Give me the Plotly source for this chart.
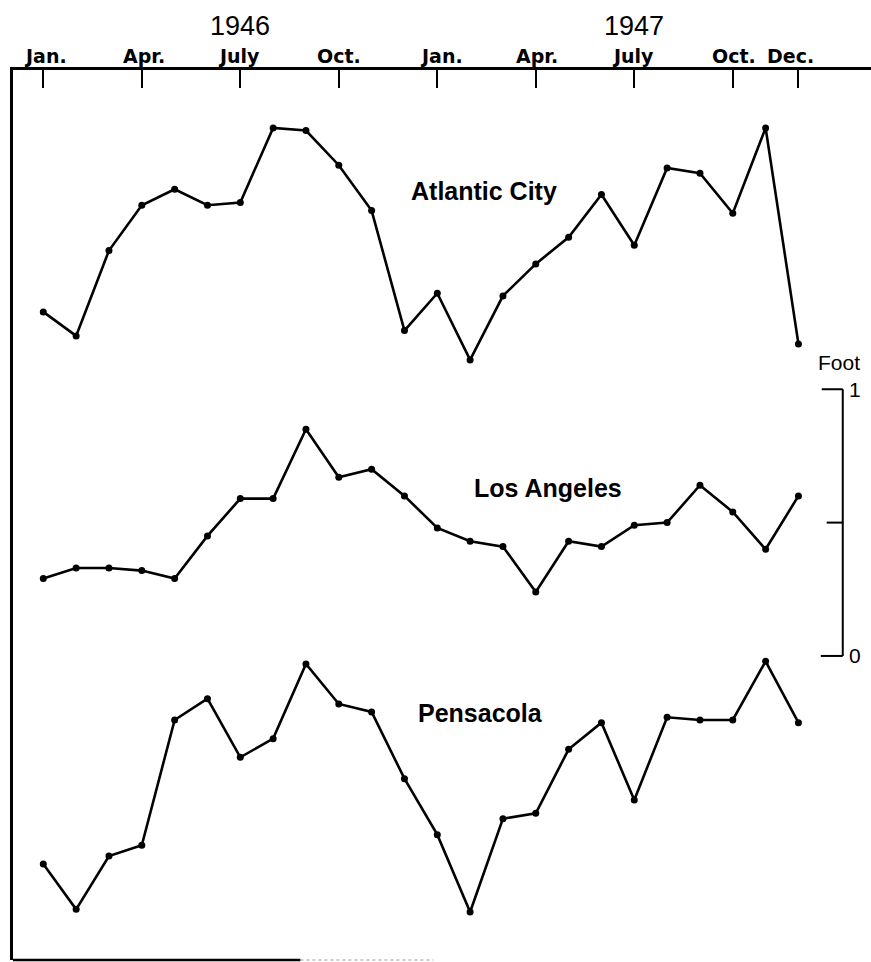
import plotly.graph_objects as go

# ---- data (monthly mean sea level, feet; arbitrary datum per station) ----
months = list(range(24))  # Jan 1946 .. Dec 1947
atlantic_city = [0.43, 0.34, 0.66, 0.83, 0.89, 0.83, 0.84, 1.12, 1.11, 0.98, 0.81, 0.36,
                 0.50, 0.25, 0.49, 0.61, 0.71, 0.87, 0.68, 0.97, 0.95, 0.80, 1.12, 0.31]
los_angeles = [0.43, 0.47, 0.47, 0.46, 0.43, 0.59, 0.73, 0.73, 0.99, 0.81, 0.84, 0.74,
               0.62, 0.57, 0.55, 0.38, 0.57, 0.55, 0.63, 0.64, 0.78, 0.68, 0.54, 0.74]
pensacola = [0.36, 0.19, 0.39, 0.43, 0.90, 0.98, 0.76, 0.83, 1.11, 0.96, 0.93, 0.68,
             0.47, 0.18, 0.53, 0.55, 0.79, 0.89, 0.60, 0.91, 0.90, 0.90, 1.12, 0.89]
station_names = ["Atlantic City", "Los Angeles", "Pensacola"]
station_offsets = [2.0, 1.0, 0.0]  # vertical stacking of the curves (feet)
tick_months = [0, 3, 6, 9, 12, 15, 18, 21, 23]
tick_labels = ["Jan.", "Apr.", "July", "Oct.", "Jan.", "Apr.", "July", "Oct.", "Dec."]
years = ["1946", "1947"]
year_months = [6, 18]

FONT = "Liberation Sans"
TICKFONT = "DejaVu Sans"
fig = go.Figure()
series = [atlantic_city, los_angeles, pensacola]
for name, vals, off in zip(station_names, series, station_offsets):
    fig.add_trace(go.Scatter(
        x=months, y=[v + off for v in vals], mode="lines+markers", name=name,
        line=dict(color="black", width=2.6),
        marker=dict(color="black", size=7),
        showlegend=False, cliponaxis=False))

# station labels
label_pos = [(13.42, 2.885), (15.38, 1.768), (13.33, 0.925)]
for name, (lx, ly) in zip(station_names, label_pos):
    fig.add_annotation(x=lx, y=ly, xref="x", yref="y", text=name, showarrow=False,
                       font=dict(family=FONT, size=25, color="black", weight="bold"))

# month labels above the top axis
label_shift = [2, 2, -1, 0, 4, 1, -1, 1, -8]
for m, t, s in zip(tick_months, tick_labels, label_shift):
    fig.add_annotation(x=m, y=1, xref="x", yref="paper", text=t, showarrow=False,
                       xshift=s, yanchor="bottom", yshift=1,
                       font=dict(family=TICKFONT, size=19, color="black", weight="bold"))

# year labels
for yr, m in zip(years, year_months):
    fig.add_annotation(x=m, y=1, xref="x", yref="paper", text=yr, showarrow=False,
                       yanchor="bottom", yshift=27,
                       font=dict(family=FONT, size=27, color="black"))

# scale bar (1 foot)
scale_zero = 1.14
sx = 24.35
fig.add_shape(type="line", xref="x", yref="y", x0=sx, x1=sx, y0=scale_zero, y1=scale_zero + 1,
              line=dict(color="black", width=2))
for frac, x0 in [(0, 23.68), (0.5, 23.86), (1, 23.71)]:
    fig.add_shape(type="line", xref="x", yref="y", x0=x0, x1=sx,
                  y0=scale_zero + frac, y1=scale_zero + frac, line=dict(color="black", width=2))
fig.add_annotation(x=24.72, y=scale_zero + 1, xref="x", yref="y", text="1", showarrow=False,
                   font=dict(family=FONT, size=21, color="black"))
fig.add_annotation(x=24.72, y=scale_zero, xref="x", yref="y", text="0", showarrow=False,
                   font=dict(family=FONT, size=21, color="black"))
fig.add_annotation(x=24.23, y=scale_zero + 1.10, xref="x", yref="y", text="Foot", showarrow=False,
                   font=dict(family=FONT, size=21, color="black"))

# bottom frame line (partially faded in the original)
fig.add_shape(type="line", xref="paper", yref="paper", x0=0, x1=0.335, y0=0, y1=0,
              line=dict(color="black", width=2.5))
fig.add_shape(type="line", xref="paper", yref="paper", x0=0.335, x1=0.49, y0=0, y1=0,
              line=dict(color="#999999", width=1, dash="dot"))

fig.update_xaxes(range=[-0.923, 25.21], side="top", showline=True, linecolor="black",
                 linewidth=2.5, ticks="inside", ticklen=18, tickwidth=2, tickcolor="black",
                 tickvals=tick_months, showticklabels=False, showgrid=False, zeroline=False,
                 automargin=False)
fig.update_yaxes(range=[0, 3.337], showline=True, linecolor="black", linewidth=2.5,
                 showticklabels=False, ticks="", showgrid=False, zeroline=False,
                 automargin=False)
fig.update_layout(width=871, height=962, margin=dict(l=13, r=0, t=70, b=2),
                  plot_bgcolor="white", paper_bgcolor="white")
fig.write_html("out.html", config={"displayModeBar": False},
               post_script="document.body.style.margin='0px';document.body.style.overflow='hidden';")
